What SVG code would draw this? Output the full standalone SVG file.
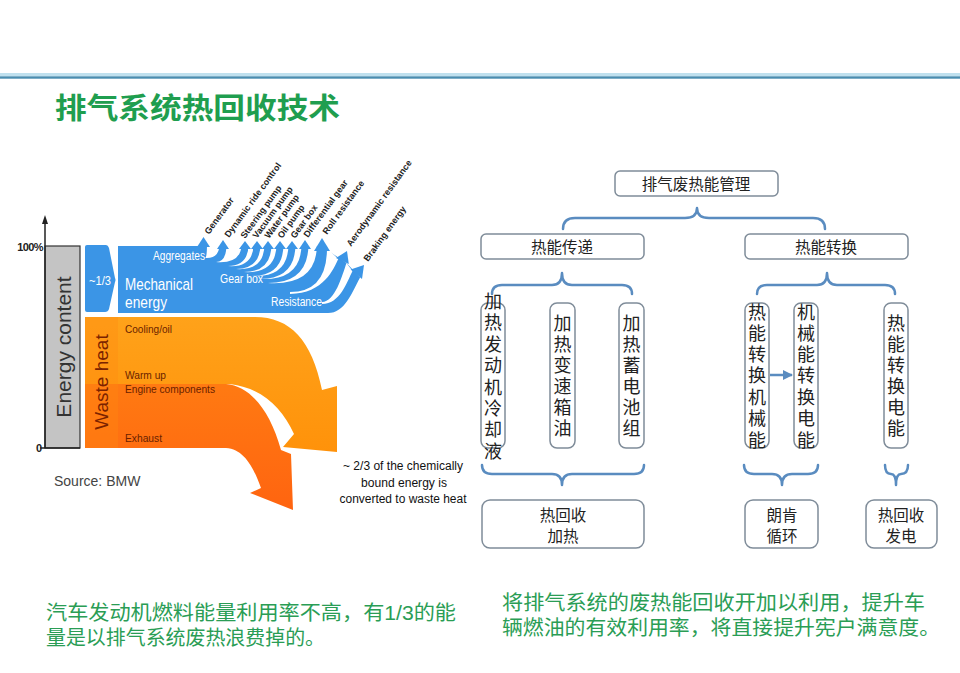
<svg xmlns="http://www.w3.org/2000/svg" width="960" height="673" viewBox="0 0 960 673">
<style>
.lat{font-family:"Liberation Sans",Arial,sans-serif}
.cjk{font-family:"Noto Sans CJK SC","Noto Sans CJK TC",sans-serif}
.lbl{font-family:"Liberation Sans",Arial,sans-serif;font-size:9px;font-weight:bold;fill:#222}
.wt{fill:#ffffff}
.or{fill:#6a1f00;font-size:11px}
.box{fill:#ffffff;stroke:#7f8c99;stroke-width:1.5}
.brace{fill:none;stroke:#5a8cc0;stroke-width:2.5;stroke-linecap:round;stroke-linejoin:round}
.bt{font-family:"Liberation Sans","Noto Sans CJK SC",sans-serif;font-size:15.5px;fill:#222;text-anchor:middle}
.vt{font-family:"Liberation Sans","Noto Sans CJK SC",sans-serif;font-size:18px;fill:#222;text-anchor:middle}
.gt{font-family:"Liberation Sans","Noto Sans CJK SC",sans-serif;font-size:20px;fill:#2a9d55}
.blue{fill:#3b95e6}
.gap{fill:#ffffff}
</style>
<defs>
<linearGradient id="gLight" x1="0" y1="0" x2="0" y2="1">
<stop offset="0" stop-color="#ffa21a"/>
<stop offset="1" stop-color="#ff920a"/>
</linearGradient>
<linearGradient id="gDark" x1="0" y1="0" x2="0" y2="1">
<stop offset="0" stop-color="#ff7a12"/>
<stop offset="1" stop-color="#ff6410"/>
</linearGradient>
<marker id="ah" viewBox="0 0 10 10" refX="9" refY="5" markerWidth="4" markerHeight="4" orient="auto">
<path d="M0,0 L10,5 L0,10 Z" fill="#5a8cc0"/>
</marker>
</defs>
<rect x="0" y="0" width="960" height="673" fill="#ffffff"/>

<!-- header line -->
<rect x="0" y="73" width="960" height="3" fill="#bfe0ee"/>
<rect x="0" y="76.3" width="960" height="2.4" fill="#4a8db0"/>

<text x="55" y="119" class="cjk" font-size="29" font-weight="bold" fill="#1f9e4f" textLength="285" lengthAdjust="spacingAndGlyphs">排气系统热回收技术</text>

<!-- Sankey chart -->
<g id="sankey">
<rect x="45" y="246" width="35" height="202" fill="#c4c4c4" stroke="#333" stroke-width="1.2"/>
<line x1="45" y1="448" x2="45" y2="222" stroke="#222" stroke-width="1.5"/>
<path d="M45,215 L42,224 L48,224 Z" fill="#222"/>
<line x1="40" y1="448" x2="80" y2="448" stroke="#222" stroke-width="1.5"/>
<text x="43" y="251" class="lat" font-size="11" font-weight="bold" fill="#222" text-anchor="end" letter-spacing="-0.6">100%</text>
<text x="42" y="452" class="lat" font-size="11" font-weight="bold" fill="#222" text-anchor="end">0</text>
<text transform="translate(71,347) rotate(-90)" class="lat" font-size="21" fill="#333" text-anchor="middle">Energy content</text>

<!-- orange -->
<path d="M85,317 H255 C290,317 312,340 322,390 L337,386 L337,452 L283,447 L294,434 C282,408 262,388 230,384 H85 Z" fill="url(#gLight)"/>
<path d="M85,384 H226 C250,386 270,410 281,450 L291,454 L293,510 L250,493 L261,488 C254,468 244,449 226,448 H85 Z" fill="url(#gDark)"/>
<rect x="85" y="317" width="33" height="131" fill="#ff8a10" opacity="0.35"/>
<text transform="translate(108,382) rotate(-90)" class="lat" font-size="19" fill="#7a2200" text-anchor="middle">Waste heat</text>
<text x="125" y="333" class="lat or" textLength="47" lengthAdjust="spacingAndGlyphs">Cooling/oil</text>
<text x="125" y="379" class="lat or" textLength="41" lengthAdjust="spacingAndGlyphs">Warm up</text>
<text x="125" y="393" class="lat or" textLength="90" lengthAdjust="spacingAndGlyphs">Engine components</text>
<text x="125" y="442" class="lat or" textLength="37" lengthAdjust="spacingAndGlyphs">Exhaust</text>

<!-- blue -->
<path class="blue" d="M87,245 H106 Q108,245 109,248 L115,278 Q116,280 115,282 L109,309 Q108,312 105,312 H87 Q85,312 85,310 V247 Q85,245 87,245 Z"/>
<text x="89" y="285" class="lat wt" font-size="12" textLength="22" lengthAdjust="spacingAndGlyphs">~1/3</text>
<path class="blue" d="M118,246 H327 V250 L346.5,262.9 L360.1,277.4 C352,292 345,313 328,313 H118 Z"/>
<!-- gaps -->
<path class="gap" d="M205,258 Q207,258 207,244 L219.5,244 Q219.5,259 205,258 Z"/>
<path class="gap" d="M216,262 Q226.5,262 226.5,244 L241.5,244 Q241.5,264 216,262 Z"/>
<path class="gap" d="M228,266 Q248.5,266 248.5,244 L253.5,244 Q253.5,268 228,266 Z"/>
<path class="gap" d="M236,269 Q260.5,269 260.5,244 L264.5,244 Q264.5,271 236,269 Z"/>
<path class="gap" d="M244,272 Q271.5,272 271.5,244 L276.5,244 Q276.5,274 244,272 Z"/>
<path class="gap" d="M252,276 Q283.5,276 283.5,244 L288.5,244 Q288.5,278 252,276 Z"/>
<path class="gap" d="M260,279 Q295.5,279 295.5,244 L301.5,244 Q301.5,281 260,279 Z"/>
<path class="gap" d="M268,283 Q308.5,283 308.5,244 L317,244 Q317,286 268,283 Z"/>
<path class="gap" d="M290,292 Q327,292 327,248 L338.3,259.1 C334,268 324,294 290,294 Z"/>
<path class="gap" d="M322,302 C335,302 342,276 346.5,263 L352.5,271 C347,282 340,304 322,304 Z"/>
<!-- heads -->
<path class="blue" d="M197,247 L210,247 L203.5,237 Z"/>
<path class="blue" d="M217,249 L229,249 L223,240 Z"/>
<path class="blue" d="M239,249 L251,249 L245,241 Z"/>
<path class="blue" d="M251,249 L263,249 L257,241 Z"/>
<path class="blue" d="M262,249 L274,249 L268,241 Z"/>
<path class="blue" d="M274,249 L286,249 L280,241 Z"/>
<path class="blue" d="M286,249 L298,249 L292,241 Z"/>
<path class="blue" d="M299,249 L311,249 L305,240 Z"/>
<path class="blue" d="M314,251 L330,251 L322,238 Z"/>
<path class="blue" d="M336,258 L348.8,264 L347,251 Z"/>
<path class="blue" d="M350.6,269.4 L362,279 L364,265 Z"/>

<text x="153" y="260" class="lat wt" font-size="12" textLength="52" lengthAdjust="spacingAndGlyphs">Aggregates</text>
<text x="125" y="290" class="lat wt" font-size="17" textLength="68" lengthAdjust="spacingAndGlyphs">Mechanical</text>
<text x="125" y="308" class="lat wt" font-size="17" textLength="42" lengthAdjust="spacingAndGlyphs">energy</text>
<text x="220" y="283" class="lat wt" font-size="13" textLength="43" lengthAdjust="spacingAndGlyphs">Gear box</text>
<text x="271" y="306" class="lat wt" font-size="12" textLength="51" lengthAdjust="spacingAndGlyphs">Resistance</text>

<!-- rotated labels -->
<text class="lbl" transform="translate(209,235) rotate(-54)">Generator</text>
<text class="lbl" transform="translate(229,238) rotate(-54)">Dynamic ride control</text>
<text class="lbl" transform="translate(245,239) rotate(-54)">Steering pump</text>
<text class="lbl" transform="translate(257,239) rotate(-54)">Vacuum pump</text>
<text class="lbl" transform="translate(269,239) rotate(-54)">Water pump</text>
<text class="lbl" transform="translate(282,239) rotate(-54)">Oil pump</text>
<text class="lbl" transform="translate(295,239) rotate(-54)">Gear box</text>
<text class="lbl" transform="translate(308,238) rotate(-54)">Differential gear</text>
<text class="lbl" transform="translate(327,235) rotate(-54)">Roll resistance</text>
<text class="lbl" transform="translate(351,247) rotate(-54)">Aerodynamic resistance</text>
<text class="lbl" transform="translate(368,262) rotate(-54)">Braking energy</text>

<text x="54" y="486" class="lat" font-size="14" fill="#444">Source: BMW</text>
<text x="403" y="470" class="lat" font-size="12" fill="#111" text-anchor="middle" textLength="120" lengthAdjust="spacingAndGlyphs">~ 2/3 of the chemically</text>
<text x="404" y="487" class="lat" font-size="12" fill="#111" text-anchor="middle" textLength="86" lengthAdjust="spacingAndGlyphs">bound energy is</text>
<text x="403" y="503" class="lat" font-size="12" fill="#111" text-anchor="middle" textLength="127" lengthAdjust="spacingAndGlyphs">converted to waste heat</text>
</g>

<!-- tree connectors -->
<g id="connectors">
<path class="brace" d="M563,229 Q563,218 575,218 H685 Q697,218 697,208 Q697,218 709,218 H813 Q825,218 825,229"/>
<path class="brace" d="M492,294 Q492,285 502,285 H552 Q562,285 562,273 Q562,285 572,285 H622 Q632,285 632,294"/>
<path class="brace" d="M757,294 Q757,285 767,285 H817 Q827,285 827,273 Q827,285 837,285 H885 Q895,285 895,294"/>
<path class="brace" d="M482,465 Q482,474 492,474 H552 Q562,474 562,485 Q562,474 572,474 H634 Q644,474 644,465"/>
<path class="brace" d="M744,465 Q744,474 754,474 H772 Q782,474 782,485 Q782,474 792,474 H808 Q818,474 818,465"/>
<path class="brace" d="M885,465 Q885,474 891,474 Q896,474 896,485 Q896,474 901,474 Q908,474 908,465"/>
<line x1="770" y1="375" x2="792" y2="375" stroke="#5a8cc0" stroke-width="2.5" marker-end="url(#ah)"/>
</g>

<g id="n-root"><rect class="box" x="615" y="171" width="163" height="25" rx="5"/><text class="bt" x="696" y="189.5">排气废热能管理</text></g>
<g id="n-transfer"><rect class="box" x="481" y="234" width="163" height="25" rx="5"/><text class="bt" x="562" y="252.5">热能传递</text></g>
<g id="n-convert"><rect class="box" x="745" y="234" width="163" height="25" rx="5"/><text class="bt" x="826" y="252.5">热能转换</text></g>

<g id="n-coolant"><rect class="box" x="481" y="303" width="24" height="145" rx="7"/>
<text class="vt"><tspan x="493" y="308">加</tspan><tspan x="493" y="329">热</tspan><tspan x="493" y="350.5">发</tspan><tspan x="493" y="372">动</tspan><tspan x="493" y="393.5">机</tspan><tspan x="493" y="415">冷</tspan><tspan x="493" y="436">却</tspan><tspan x="493" y="457.5">液</tspan></text></g>
<g id="n-gearoil"><rect class="box" x="550" y="303" width="25" height="145" rx="7"/>
<text class="vt"><tspan x="562.5" y="330">加</tspan><tspan x="562.5" y="351">热</tspan><tspan x="562.5" y="372">变</tspan><tspan x="562.5" y="393">速</tspan><tspan x="562.5" y="414">箱</tspan><tspan x="562.5" y="435">油</tspan></text></g>
<g id="n-battery"><rect class="box" x="619" y="303" width="25" height="145" rx="7"/>
<text class="vt"><tspan x="631.5" y="330">加</tspan><tspan x="631.5" y="351">热</tspan><tspan x="631.5" y="372">蓄</tspan><tspan x="631.5" y="393">电</tspan><tspan x="631.5" y="414">池</tspan><tspan x="631.5" y="435">组</tspan></text></g>
<g id="n-h2m"><rect class="box" x="745" y="303" width="24" height="145" rx="7"/>
<text class="vt"><tspan x="757" y="319">热</tspan><tspan x="757" y="340">能</tspan><tspan x="757" y="361">转</tspan><tspan x="757" y="382">换</tspan><tspan x="757" y="403.5">机</tspan><tspan x="757" y="425">械</tspan><tspan x="757" y="446.5">能</tspan></text></g>
<g id="n-m2e"><rect class="box" x="794" y="303" width="24" height="145" rx="7"/>
<text class="vt"><tspan x="806" y="319">机</tspan><tspan x="806" y="340">械</tspan><tspan x="806" y="361">能</tspan><tspan x="806" y="382">转</tspan><tspan x="806" y="403.5">换</tspan><tspan x="806" y="425">电</tspan><tspan x="806" y="446.5">能</tspan></text></g>
<g id="n-h2e"><rect class="box" x="884" y="303" width="24" height="145" rx="7"/>
<text class="vt"><tspan x="896" y="330">热</tspan><tspan x="896" y="351">能</tspan><tspan x="896" y="372">转</tspan><tspan x="896" y="393">换</tspan><tspan x="896" y="414">电</tspan><tspan x="896" y="435">能</tspan></text></g>

<g id="n-heat"><rect class="box" x="482" y="500" width="162" height="48" rx="8"/><text class="bt"><tspan x="563" y="520.5">热回收</tspan><tspan x="563" y="542">加热</tspan></text></g>
<g id="n-rankine"><rect class="box" x="745" y="500" width="73" height="48" rx="8"/><text class="bt"><tspan x="782" y="520.5">朗肯</tspan><tspan x="782" y="542">循环</tspan></text></g>
<g id="n-power"><rect class="box" x="866" y="500" width="71" height="48" rx="8"/><text class="bt"><tspan x="901" y="520.5">热回收</tspan><tspan x="901" y="542">发电</tspan></text></g>

<text class="gt" x="46" y="620" textLength="410" lengthAdjust="spacingAndGlyphs">汽车发动机燃料能量利用率不高，有1/3的能</text>
<text class="gt" x="46" y="645" textLength="279" lengthAdjust="spacingAndGlyphs">量是以排气系统废热浪费掉的。</text>
<text class="gt" x="502" y="610" textLength="423" lengthAdjust="spacingAndGlyphs">将排气系统的废热能回收开加以利用，提升车</text>
<text class="gt" x="502" y="635" textLength="438" lengthAdjust="spacingAndGlyphs">辆燃油的有效利用率，将直接提升宪户满意度。</text>
</svg>
